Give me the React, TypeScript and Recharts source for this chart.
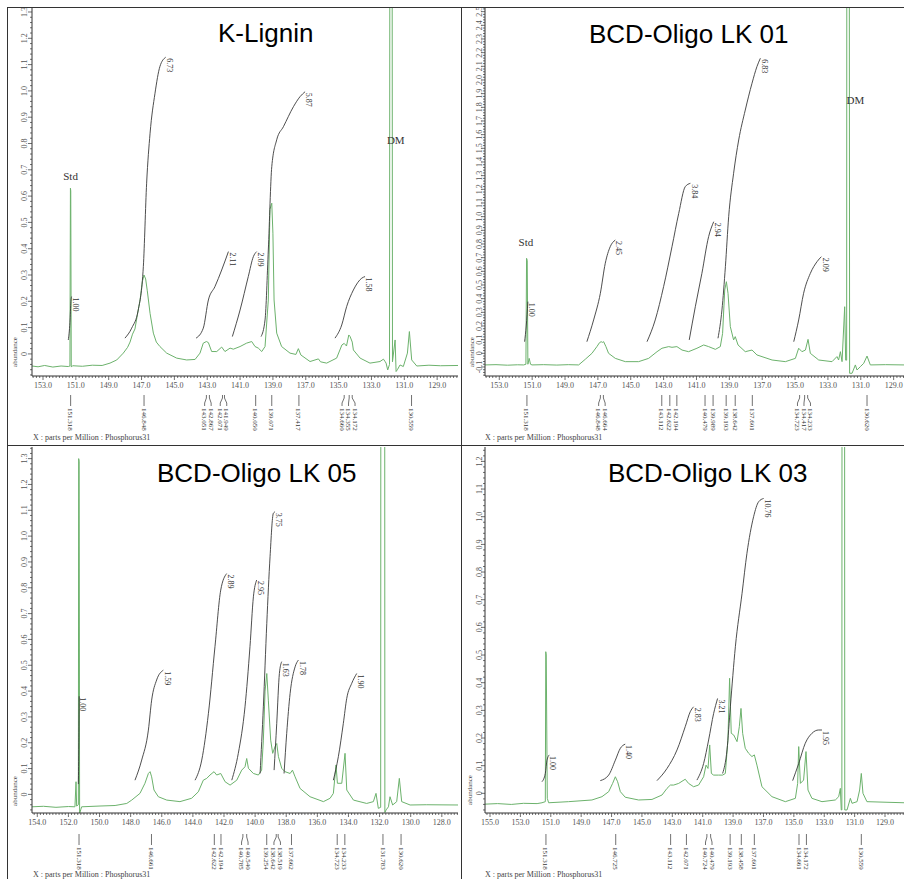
import { ComposedChart, Line, Scatter, XAxis, YAxis } from "recharts";

type Pt = [number, number];
type Integral = { label: string; pts: Pt[] };
type Note = { text: string; ppm: number; v: number };

const GREEN = "#6cb26c";
const AXIS = "#333";
const SERIF = "'Liberation Serif', 'DejaVu Serif', serif";
const SANS = "'Liberation Sans', Arial, sans-serif";

// ---- K-Lignin ----
const kLigninSpectrum: Pt[] = [
  [153.67, -0.046], [153.3, -0.049], [152.9, -0.044], [152.4, -0.05], [151.9, -0.046], [151.46, -0.048],
  [151.36, -0.046], [151.33, 0.63], [151.31, 0.62], [151.28, -0.05], [151.2, -0.045], [150.6, -0.047],
  [150.0, -0.043], [149.4, -0.044], [148.92, -0.035], [148.51, -0.023], [148.11, 0.003], [147.85, 0.025],
  [147.7, 0.045], [147.55, 0.075], [147.4, 0.095], [147.25, 0.15], [147.09, 0.205], [146.95, 0.275],
  [146.85, 0.3], [146.75, 0.285], [146.65, 0.24], [146.48, 0.154], [146.28, 0.079], [146.1, 0.045],
  [145.88, 0.028], [145.47, 0.003], [144.86, -0.016], [144.25, -0.023], [143.74, -0.021], [143.44, 0.003],
  [143.24, 0.041], [143.05, 0.047], [142.93, 0.043], [142.73, 0.009], [142.42, 0.009], [142.12, 0.026],
  [141.92, 0.009], [141.61, 0.022], [141.41, 0.018], [141.0, 0.028], [140.6, 0.041], [140.29, 0.047],
  [140.09, 0.028], [139.89, 0.022], [139.68, 0.009], [139.48, 0.028], [139.28, 0.205], [139.18, 0.55],
  [139.07, 0.573], [139.0, 0.459], [138.93, 0.205], [138.77, 0.079], [138.47, 0.028], [137.96, 0.003],
  [137.6, -0.002], [137.45, 0.02], [137.3, -0.004], [136.74, -0.029], [136.23, -0.019], [136.1, -0.03],
  [135.73, -0.035], [135.12, -0.016], [134.8, 0.034], [134.66, 0.04], [134.52, 0.03], [134.38, 0.072],
  [134.3, 0.066], [134.17, 0.045], [134.1, 0.015], [133.69, -0.016], [133.09, -0.035], [132.48, -0.029],
  [132.27, -0.02], [132.18, -0.028], [132.11, -0.035], [132.01, -0.061], [131.9, -0.04], [131.88, 1.6],
  [131.74, 1.6], [131.72, -0.03], [131.56, 0.053], [131.5, -0.067], [131.42, -0.06], [131.26, -0.042],
  [131.06, -0.048], [130.81, 0.003], [130.69, 0.085], [130.55, -0.023], [130.24, -0.046], [129.5, -0.043],
  [128.8, -0.045], [127.73, -0.044],
];
const kLigninIntegrals: Integral[] = [
  { label: "1.00", pts: [[151.46, 0.053], [151.36, 0.12], [151.3, 0.2], [151.26, 0.218]] },
  { label: "6.73", pts: [[148.01, 0.06], [147.6, 0.098], [147.2, 0.167], [146.89, 0.332], [146.69, 0.649], [146.48, 0.839], [146.18, 0.991], [145.88, 1.093], [145.53, 1.128]] },
  { label: "2.11", pts: [[143.68, 0.06], [143.24, 0.098], [142.93, 0.205], [142.53, 0.256], [142.12, 0.319], [141.71, 0.389]] },
  { label: "2.09", pts: [[141.47, 0.066], [141.0, 0.167], [140.5, 0.294], [140.19, 0.37], [139.99, 0.389]] },
  { label: "5.87", pts: [[139.72, 0.066], [139.48, 0.129], [139.28, 0.395], [139.07, 0.712], [138.77, 0.814], [138.36, 0.864], [137.75, 0.94], [137.35, 0.978], [137.04, 0.997]] },
  { label: "1.58", pts: [[135.22, 0.06], [134.81, 0.11], [134.51, 0.18], [134.1, 0.243], [133.59, 0.288], [133.39, 0.294]] },
];
const kLigninPeaks = [151.318, 146.848, 143.051, 142.867, 142.071, 141.949, 140.05, 139.071, 137.417, 134.66, 134.355, 134.172, 130.559];
const kLigninNotes: Note[] = [
  { text: "Std", ppm: 151.32, v: 0.674 },
  { text: "DM", ppm: 131.52, v: 0.814 },
];

// ---- BCD-Oligo LK 01 ----
const lk01Spectrum: Pt[] = [
  [153.87, -0.085], [153.2, -0.083], [152.5, -0.087], [151.9, -0.084], [151.52, -0.085], [151.38, -0.08],
  [151.34, 0.695], [151.3, 0.68], [151.26, -0.08], [151.18, -0.037], [151.1, -0.08], [151.01, -0.085],
  [150.3, -0.083], [149.5, -0.086], [148.8, -0.083], [148.17, -0.085], [147.77, -0.044], [147.36, 0.0],
  [147.06, 0.049], [146.9, 0.078], [146.8, 0.085], [146.72, 0.08], [146.65, 0.085], [146.51, 0.049],
  [146.35, 0.0], [145.94, -0.037], [145.33, -0.061], [144.52, -0.061], [143.91, -0.037], [143.4, 0.012],
  [143.1, 0.037], [142.69, 0.049], [142.49, 0.044], [142.19, 0.049], [141.88, 0.024], [141.48, 0.012],
  [140.97, 0.037], [140.56, 0.061], [140.26, 0.049], [139.85, 0.029], [139.55, 0.049], [139.41, 0.146],
  [139.28, 0.463], [139.18, 0.524], [139.08, 0.439], [138.94, 0.195], [138.74, 0.098], [138.64, 0.122],
  [138.47, 0.061], [138.03, 0.012], [137.62, 0.024], [137.32, -0.012], [136.4, -0.049], [135.59, -0.061],
  [134.98, -0.037], [134.78, 0.037], [134.58, 0.012], [134.37, 0.024], [134.21, 0.102], [134.07, 0.0],
  [133.56, -0.049], [132.75, -0.061], [132.45, -0.024], [132.35, -0.049], [132.24, 0.012], [132.14, -0.061],
  [131.98, 0.341], [131.92, -0.05], [131.86, -0.05], [131.85, 3.0], [131.7, 3.0], [131.68, -0.146],
  [131.53, -0.146], [131.33, -0.085], [131.23, -0.122], [131.03, -0.098], [130.82, -0.073], [130.62, -0.02],
  [130.42, -0.085], [129.5, -0.083], [128.37, -0.085],
];
const lk01Integrals: Integral[] = [
  { label: "1.00", pts: [[151.46, 0.085], [151.36, 0.2], [151.26, 0.378]] },
  { label: "2.45", pts: [[147.67, 0.085], [147.26, 0.244], [146.85, 0.439], [146.55, 0.659], [146.25, 0.78], [145.94, 0.829]] },
  { label: "3.84", pts: [[144.01, 0.085], [143.51, 0.244], [143.0, 0.488], [142.49, 0.78], [142.08, 1.024], [141.68, 1.22], [141.37, 1.244]] },
  { label: "2.94", pts: [[141.44, 0.098], [141.07, 0.341], [140.67, 0.585], [140.26, 0.854], [139.95, 0.963]] },
  { label: "6.83", pts: [[139.69, 0.11], [139.45, 0.317], [139.24, 0.634], [139.04, 1.0], [138.74, 1.317], [138.43, 1.561], [138.03, 1.78], [137.62, 1.976], [137.32, 2.098], [137.11, 2.159]] },
  { label: "2.09", pts: [[135.08, 0.085], [134.78, 0.244], [134.48, 0.439], [134.07, 0.585], [133.66, 0.671], [133.4, 0.707]] },
];
const lk01Peaks = [151.318, 146.848, 146.664, 143.112, 142.622, 142.194, 140.479, 139.989, 139.193, 138.642, 137.601, 134.723, 134.417, 134.233, 130.62];
const lk01Notes: Note[] = [
  { text: "Std", ppm: 151.38, v: 0.81 },
  { text: "DM", ppm: 131.33, v: 1.854 },
];

// ---- BCD-Oligo LK 05 ----
const lk05Spectrum: Pt[] = [
  [154.34, -0.048], [153.6, -0.046], [152.8, -0.05], [152.0, -0.047], [151.58, -0.048], [151.51, 0.049],
  [151.47, -0.045], [151.36, -0.04], [151.34, 1.3], [151.31, 1.29], [151.28, -0.074], [151.21, -0.06],
  [151.15, -0.048], [149.97, -0.045], [149.0, -0.043], [148.25, -0.035], [147.93, -0.022], [147.4, 0.004],
  [147.08, 0.043], [146.86, 0.081], [146.75, 0.088], [146.65, 0.068], [146.5, 0.017], [146.22, -0.009],
  [145.68, -0.022], [144.83, -0.028], [144.08, -0.015], [143.65, 0.01], [143.33, 0.055], [143.11, 0.062],
  [142.9, 0.075], [142.64, 0.088], [142.47, 0.075], [142.21, 0.081], [141.93, 0.049], [141.61, 0.036],
  [141.18, 0.055], [140.86, 0.094], [140.65, 0.107], [140.54, 0.139], [140.43, 0.101], [140.11, 0.081],
  [139.79, 0.075], [139.58, 0.094], [139.47, 0.21], [139.36, 0.4], [139.25, 0.468], [139.15, 0.365],
  [139.0, 0.21], [138.87, 0.159], [138.72, 0.185], [138.61, 0.197], [138.5, 0.146], [138.29, 0.101],
  [138.08, 0.088], [137.75, 0.081], [137.6, 0.094], [137.43, 0.068], [137.11, 0.023], [136.47, -0.009],
  [135.61, -0.028], [135.18, -0.015], [134.97, 0.004], [134.8, 0.114], [134.71, 0.043], [134.43, 0.043],
  [134.22, 0.159], [134.11, 0.017], [133.68, -0.022], [132.83, -0.035], [132.4, -0.028], [132.23, 0.004],
  [132.08, -0.054], [131.93, -0.05], [131.92, 1.6], [131.67, 1.6], [131.66, -0.07], [131.58, -0.06],
  [131.43, -0.048], [131.33, -0.009], [131.16, -0.041], [130.9, -0.028], [130.73, 0.062], [130.58, -0.028],
  [130.04, -0.041], [129.0, -0.04], [126.96, -0.041],
];
const lk05Integrals: Integral[] = [
  { label: "1.00", pts: [[151.36, 0.04], [151.33, 0.2], [151.31, 0.38]] },
  { label: "1.59", pts: [[147.72, 0.055], [147.29, 0.133], [146.86, 0.249], [146.65, 0.365], [146.33, 0.443], [145.9, 0.481]] },
  { label: "2.89", pts: [[143.86, 0.055], [143.43, 0.133], [143.0, 0.314], [142.58, 0.572], [142.21, 0.791], [141.83, 0.855]] },
  { label: "2.95", pts: [[141.5, 0.055], [141.08, 0.159], [140.65, 0.339], [140.33, 0.572], [140.11, 0.765], [139.9, 0.83]] },
  { label: "3.75", pts: [[139.68, 0.081], [139.47, 0.339], [139.25, 0.662], [139.04, 0.92], [138.83, 1.088], [138.72, 1.094]] },
  { label: "1.63", pts: [[138.78, 0.094], [138.61, 0.275], [138.44, 0.468], [138.29, 0.514]] },
  { label: "1.78", pts: [[138.14, 0.081], [137.97, 0.236], [137.75, 0.391], [137.43, 0.494], [137.22, 0.52]] },
  { label: "1.90", pts: [[134.97, 0.055], [134.65, 0.146], [134.33, 0.275], [134.11, 0.372], [133.79, 0.43], [133.47, 0.468]] },
];
const lk05Peaks = [151.318, 146.661, 142.622, 142.194, 140.785, 140.54, 139.254, 138.642, 138.519, 137.662, 134.723, 134.233, 131.783, 130.62];

// ---- BCD-Oligo LK 03 ----
const lk03Spectrum: Pt[] = [
  [155.33, -0.039], [154.5, -0.037], [153.6, -0.04], [152.8, -0.036], [151.9, -0.037], [151.58, -0.034],
  [151.36, -0.03], [151.33, 0.512], [151.3, 0.5], [151.23, -0.018], [151.14, -0.034], [149.83, -0.03],
  [148.29, -0.024], [147.63, -0.012], [147.19, 0.006], [146.93, 0.036], [146.75, 0.06], [146.6, 0.042],
  [146.42, 0.006], [146.1, -0.014], [145.22, -0.024], [144.34, -0.022], [143.68, -0.006], [143.35, 0.018],
  [143.13, 0.03], [142.91, 0.03], [142.58, 0.036], [142.15, 0.051], [141.93, 0.036], [141.6, 0.024],
  [141.27, 0.03], [140.94, 0.06], [140.78, 0.102], [140.65, 0.09], [140.54, 0.175], [140.43, 0.072],
  [140.28, 0.066], [139.95, 0.066], [139.69, 0.066], [139.51, 0.072], [139.34, 0.193], [139.23, 0.416],
  [139.12, 0.217], [138.96, 0.211], [138.74, 0.187], [138.59, 0.241], [138.48, 0.307], [138.37, 0.217],
  [138.2, 0.163], [137.98, 0.145], [137.76, 0.133], [137.6, 0.139], [137.43, 0.102], [137.1, 0.024],
  [136.44, -0.012], [135.56, -0.03], [134.9, -0.018], [134.75, 0.036], [134.68, 0.169], [134.57, 0.036],
  [134.36, 0.048], [134.2, 0.151], [134.07, 0.012], [133.81, -0.018], [133.15, -0.03], [132.27, -0.024],
  [132.05, -0.012], [131.94, 0.018], [131.88, -0.06], [131.84, -0.06], [131.83, 1.6], [131.66, 1.6],
  [131.65, -0.06], [131.5, -0.06], [131.28, -0.018], [131.17, -0.036], [130.84, -0.03], [130.67, 0.012],
  [130.56, 0.072], [130.45, 0.0], [130.19, -0.03], [129.0, -0.032], [127.75, -0.034],
];
const lk03Integrals: Integral[] = [
  { label: "1.00", pts: [[151.58, 0.042], [151.36, 0.072], [151.25, 0.12], [151.1, 0.139]] },
  { label: "1.40", pts: [[147.74, 0.046], [147.19, 0.066], [146.75, 0.12], [146.42, 0.163], [146.1, 0.178]] },
  { label: "2.83", pts: [[144.01, 0.046], [143.35, 0.09], [142.69, 0.157], [142.15, 0.241], [141.82, 0.295], [141.6, 0.313]] },
  { label: "3.21", pts: [[141.38, 0.048], [140.94, 0.108], [140.61, 0.193], [140.28, 0.289], [140.02, 0.343]] },
  { label: "10.76", pts: [[139.69, 0.072], [139.4, 0.157], [139.18, 0.313], [138.85, 0.53], [138.41, 0.723], [138.09, 0.867], [137.65, 1.0], [137.32, 1.054], [136.99, 1.066]] },
  { label: "1.95", pts: [[135.08, 0.046], [134.68, 0.108], [134.25, 0.181], [133.81, 0.217], [133.37, 0.229], [133.15, 0.229]] },
];
const lk03Peaks = [151.318, 146.725, 143.112, 142.071, 140.724, 140.479, 139.193, 138.458, 137.601, 134.661, 134.172, 130.559];

// axis tick labels
const xLabelsOdd = [153, 151, 149, 147, 145, 143, 141, 139, 137, 135, 133, 131, 129];
const xLabelsEven = [154, 152, 150, 148, 146, 144, 142, 140, 138, 136, 134, 132, 130, 128];
const xLabelsWide = [155, 153, 151, 149, 147, 145, 143, 141, 139, 137, 135, 133, 131, 129];
const yLabels13 = [0, 0.1, 0.2, 0.3, 0.4, 0.5, 0.6, 0.7, 0.8, 0.9, 1.0, 1.1, 1.2, 1.3];
const yLabels12 = [0, 0.1, 0.2, 0.3, 0.4, 0.5, 0.6, 0.7, 0.8, 0.9, 1.0, 1.1, 1.2];
const yLabels25 = [-0.1, 0, 0.1, 0.2, 0.3, 0.4, 0.5, 0.6, 0.7, 0.8, 0.9, 1.0, 1.1, 1.2, 1.3, 1.4, 1.5, 1.6, 1.7, 1.8, 1.9, 2.0, 2.1, 2.2, 2.3, 2.4, 2.5];

function steps(lo: number, hi: number, step: number): number[] {
  const out: number[] = [];
  const a = Math.ceil(lo / step - 1e-9);
  const b = Math.floor(hi / step + 1e-9);
  for (let i = a; i <= b; i++) out.push(Math.round(i * step * 1000) / 1000);
  return out;
}

const isMajor = (list: number[], v: number) => list.some((m) => Math.abs(m - v) < 1e-6);

// spread crowded peak labels so they don't overlap (returns px offsets)
function spreadOffsets(peaks: number[], xMax: number, k: number, gap: number): number[] {
  const pos = peaks.map((p) => (xMax - p) * k);
  let groups = pos.map((p, i) => ({ idx: [i], start: p }));
  let changed = true;
  while (changed) {
    changed = false;
    for (let i = 0; i < groups.length - 1; i++) {
      const a = groups[i];
      const b = groups[i + 1];
      if (a.start + a.idx.length * gap > b.start) {
        const idx = [...a.idx, ...b.idx];
        const mean = idx.reduce((s, j) => s + pos[j], 0) / idx.length;
        groups.splice(i, 2, { idx, start: mean - ((idx.length - 1) * gap) / 2 });
        changed = true;
        break;
      }
    }
  }
  const out = new Array(peaks.length).fill(0);
  groups.forEach((g) => g.idx.forEach((j, n) => (out[j] = g.start + n * gap - pos[j])));
  return out;
}

const XTick = (props: any) => {
  const { x, y, payload, majors } = props;
  const major = isMajor(majors, payload.value);
  return (
    <g>
      <line x1={x} y1={y} x2={x} y2={y + (major ? 4 : 2)} stroke={AXIS} strokeWidth={0.7} />
      {major && (
        <text x={x} y={y + 12} textAnchor="middle" fontSize={8} fontFamily={SERIF} fill="#555">
          {payload.value.toFixed(1)}
        </text>
      )}
    </g>
  );
};

const YTick = (props: any) => {
  const { x, y, payload, majors, labelGap } = props;
  const major = isMajor(majors, payload.value);
  const v = payload.value;
  return (
    <g>
      <line x1={x - (major ? 4 : 2)} y1={y} x2={x} y2={y} stroke={AXIS} strokeWidth={0.7} />
      {major && (
        <text
          transform={`translate(${x - labelGap},${y}) rotate(-90)`}
          textAnchor="middle"
          fontSize={8}
          fontFamily={SERIF}
          fill="#555"
        >
          {v === 0 ? "0" : v.toFixed(1)}
        </text>
      )}
    </g>
  );
};

const PeakTick = (props: any) => {
  const { x, y, payload, peaks, offsets } = props;
  const i = peaks.findIndex((q: number) => Math.abs(q - payload.value) < 1e-6);
  const lx = x + (i >= 0 ? offsets[i] : 0);
  return (
    <g>
      <polyline
        points={`${x},${y + 1} ${x},${y + 4} ${lx},${y + 9} ${lx},${y + 12}`}
        fill="none"
        stroke="#333"
        strokeWidth={0.7}
      />
      <text
        transform={`translate(${lx},${y + 14}) rotate(90)`}
        dy="0.35em"
        fontSize={7}
        fontFamily={SERIF}
        fill="#333"
      >
        {payload.value.toFixed(3)}
      </text>
    </g>
  );
};

const NoteShape = (props: any) => {
  const { cx, cy, payload } = props;
  if (payload.kind === "int") {
    return (
      <text
        transform={`translate(${cx + 4},${cy + 1}) rotate(90)`}
        dy="0.35em"
        fontSize={8}
        fontFamily={SERIF}
        fill="#333"
      >
        {payload.text}
      </text>
    );
  }
  return (
    <text x={cx} y={cy} dy="0.35em" textAnchor="middle" fontSize={11} fontFamily={SERIF} fill="#333">
      {payload.text}
    </text>
  );
};

type PanelProps = {
  left: number;
  top: number;
  width: number;
  height: number;
  marginTop: number;
  marginRight: number;
  plotBottom: number;
  yAxisWidth: number;
  xAxisHeight: number;
  labelGap: number;
  xDomain: [number, number];
  yDomain: [number, number];
  xLabels: number[];
  yLabels: number[];
  spectrum: Pt[];
  integrals: Integral[];
  peaks: number[];
  notes: Note[];
};

function Panel(p: PanelProps) {
  const peakAxisHeight = p.height - p.plotBottom - p.xAxisHeight;
  const xTicks = steps(p.xDomain[0], p.xDomain[1], 0.2);
  const yTicks = steps(p.yDomain[0], p.yDomain[1], 0.02);
  const plotW = p.width - p.marginRight - p.yAxisWidth;
  const k = plotW / (p.xDomain[1] - p.xDomain[0]);
  const offsets = spreadOffsets(p.peaks, p.xDomain[1], k, 6.5);
  const specData = p.spectrum.map(([ppm, v]) => ({ ppm, v }));
  const labelData = [
    ...p.notes.map((n) => ({ ...n, kind: "note" })),
    ...p.integrals.map((g) => {
      const last = g.pts[g.pts.length - 1];
      return { text: g.label, ppm: last[0], v: last[1], kind: "int" };
    }),
  ];

  return (
    <div style={{ position: "absolute", left: p.left, top: p.top }}>
      <ComposedChart
        width={p.width}
        height={p.height}
        margin={{ top: p.marginTop, right: p.marginRight, left: 0, bottom: 0 }}
      >
        <XAxis
          xAxisId="main"
          type="number"
          dataKey="ppm"
          domain={p.xDomain}
          reversed
          allowDataOverflow
          ticks={xTicks}
          interval={0}
          height={p.xAxisHeight}
          tickSize={0}
          tickMargin={0}
          tickLine={false}
          axisLine={{ stroke: AXIS }}
          tick={(t: any) => <XTick {...t} majors={p.xLabels} />}
        />
        <XAxis
          xAxisId="peaks"
          type="number"
          dataKey="ppm"
          domain={p.xDomain}
          reversed
          allowDataOverflow
          ticks={p.peaks}
          interval={0}
          height={peakAxisHeight}
          tickSize={0}
          tickMargin={0}
          tickLine={false}
          axisLine={false}
          tick={(t: any) => <PeakTick {...t} peaks={p.peaks} offsets={offsets} />}
        />
        <YAxis
          type="number"
          domain={p.yDomain}
          allowDataOverflow
          ticks={yTicks}
          interval={0}
          width={p.yAxisWidth}
          tickSize={0}
          tickMargin={0}
          tickLine={false}
          axisLine={{ stroke: AXIS }}
          tick={(t: any) => <YTick {...t} majors={p.yLabels} labelGap={p.labelGap} />}
        />
        <Line
          xAxisId="main"
          data={specData}
          dataKey="v"
          type="linear"
          stroke={GREEN}
          strokeWidth={1}
          dot={false}
          isAnimationActive={false}
        />
        {p.integrals.map((g, i) => (
          <Line
            key={i}
            xAxisId="main"
            data={g.pts.map(([ppm, v]) => ({ ppm, v }))}
            dataKey="v"
            type="monotone"
            stroke="#3a3a3a"
            strokeWidth={0.9}
            dot={false}
            isAnimationActive={false}
          />
        ))}
        <Scatter
          xAxisId="main"
          data={labelData}
          dataKey="v"
          shape={(s: any) => <NoteShape {...s} />}
          isAnimationActive={false}
        />
      </ComposedChart>
    </div>
  );
}

export default function App() {
  return (
    <div style={{ position: "absolute", left: 0, top: 0, width: 904, height: 879, background: "#fff", overflow: "hidden" }}>
      <Panel
        left={0} top={0} width={461} height={445} marginTop={7} marginRight={3} plotBottom={376} yAxisWidth={32}
        xAxisHeight={18} labelGap={5}
        xDomain={[127.73, 153.67]} yDomain={[-0.084, 1.319]}
        xLabels={xLabelsOdd} yLabels={yLabels13}
        spectrum={kLigninSpectrum} integrals={kLigninIntegrals} peaks={kLigninPeaks} notes={kLigninNotes}
      />
      <Panel
        left={461} top={0} width={443} height={445} marginTop={7} marginRight={0} plotBottom={376} yAxisWidth={24}
        xAxisHeight={18} labelGap={3}
        xDomain={[128.37, 153.87]} yDomain={[-0.166, 2.534]}
        xLabels={xLabelsOdd} yLabels={yLabels25}
        spectrum={lk01Spectrum} integrals={lk01Integrals} peaks={lk01Peaks} notes={lk01Notes}
      />
      <Panel
        left={0} top={445} width={461} height={434} marginTop={2} marginRight={3} plotBottom={368} yAxisWidth={32}
        xAxisHeight={20} labelGap={5}
        xDomain={[126.96, 154.34]} yDomain={[-0.072, 1.345]}
        xLabels={xLabelsEven} yLabels={yLabels13}
        spectrum={lk05Spectrum} integrals={lk05Integrals} peaks={lk05Peaks} notes={[]}
      />
      <Panel
        left={461} top={445} width={443} height={434} marginTop={2} marginRight={0} plotBottom={368} yAxisWidth={24}
        xAxisHeight={20} labelGap={3}
        xDomain={[127.75, 155.33]} yDomain={[-0.071, 1.252]}
        xLabels={xLabelsWide} yLabels={yLabels12}
        spectrum={lk03Spectrum} integrals={lk03Integrals} peaks={lk03Peaks} notes={[]}
      />
      <svg width={904} height={879} style={{ position: "absolute", left: 0, top: 0, pointerEvents: "none" }}>
        <g stroke="#333" strokeWidth={1}>
          <line x1={7} y1={7.5} x2={904} y2={7.5} />
          <line x1={7.5} y1={7} x2={7.5} y2={879} />
          <line x1={461.5} y1={7} x2={461.5} y2={879} />
          <line x1={7} y1={445.5} x2={904} y2={445.5} />
        </g>
        <g fontFamily={SANS} fontSize={26} fill="#000">
          <text x={218} y={42}>K-Lignin</text>
          <text x={589} y={43}>BCD-Oligo LK 01</text>
          <text x={157} y={482}>BCD-Oligo LK 05</text>
          <text x={608} y={482}>BCD-Oligo LK 03</text>
        </g>
        <g fontFamily={SERIF} fontSize={7} fill="#444">
          <text transform="translate(17,352) rotate(-90)" textAnchor="middle">abundance</text>
          <text transform="translate(474,352) rotate(-90)" textAnchor="middle">abundance</text>
          <text transform="translate(17,791) rotate(-90)" textAnchor="middle">abundance</text>
          <text transform="translate(472,790) rotate(-90)" textAnchor="middle">abundance</text>
        </g>
        <g fontFamily={SERIF} fontSize={8} fill="#444">
          <text x={33} y={440}>X : parts per Million : Phosphorus31</text>
          <text x={485} y={440}>X : parts per Million : Phosphorus31</text>
          <text x={33} y={877}>X : parts per Million : Phosphorus31</text>
          <text x={485} y={877}>X : parts per Million : Phosphorus31</text>
        </g>
      </svg>
    </div>
  );
}
